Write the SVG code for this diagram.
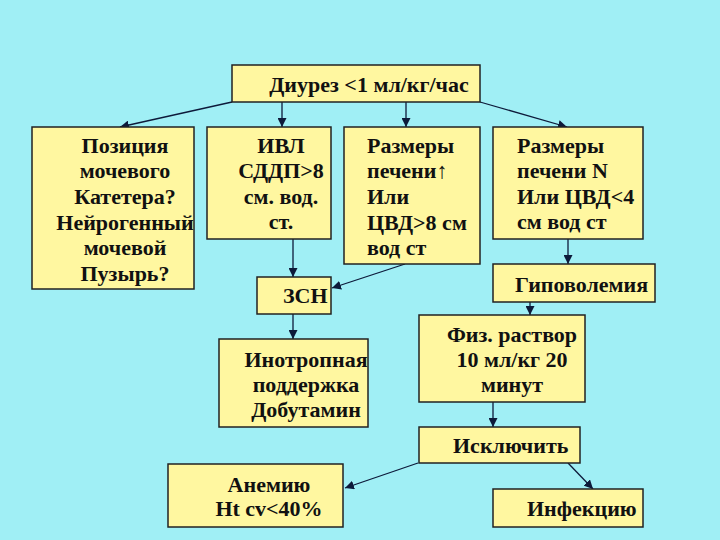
<svg xmlns="http://www.w3.org/2000/svg" width="720" height="540" viewBox="0 0 720 540">
<defs>
<style>
.bg{fill:#A0EFF5}
.box{fill:#FFF7A0;stroke:#222;stroke-width:1.5}
.t{font-family:"Liberation Serif","Times New Roman",serif;font-weight:bold;font-size:22px;fill:#111}
.c{text-anchor:middle}
.ln{stroke:#0d1a3a;stroke-width:1.3;fill:none;marker-end:url(#ah)}
</style>
<marker id="ah" viewBox="0 0 10 10" refX="10" refY="5" markerWidth="9" markerHeight="9" markerUnits="userSpaceOnUse" orient="auto">
<path d="M0,0 L10,5 L0,10 z" fill="#0d1a3a"/>
</marker>
</defs>
<rect class="bg" x="0" y="0" width="720" height="540"/>
<g id="connectors">
<line class="ln" x1="232" y1="102" x2="120" y2="127"/>
<line class="ln" x1="282" y1="102" x2="282" y2="127"/>
<line class="ln" x1="406" y1="102" x2="406" y2="127"/>
<line class="ln" x1="480" y1="102" x2="567" y2="127"/>
<line class="ln" x1="293" y1="239" x2="293" y2="277"/>
<line class="ln" x1="405" y1="264" x2="332" y2="288"/>
<line class="ln" x1="568" y1="239" x2="568" y2="264"/>
<line class="ln" x1="293" y1="314" x2="293" y2="339"/>
<line class="ln" x1="530" y1="302" x2="530" y2="315"/>
<line class="ln" x1="493" y1="402" x2="493" y2="427"/>
<line class="ln" x1="418" y1="463" x2="345" y2="488"/>
<line class="ln" x1="568" y1="463" x2="593" y2="489"/>
</g>
<g id="n-diurez">
<rect class="box" x="232" y="65" width="248" height="37"/>
<text class="t c" x="369" y="92">Диурез &lt;1 мл/кг/час</text>
</g>
<g id="n-position">
<rect class="box" x="32" y="127" width="162" height="162"/>
<text class="t c" x="125" y="153">Позиция</text>
<text class="t c" x="125" y="178">мочевого</text>
<text class="t c" x="125" y="204">Катетера?</text>
<text class="t c" x="125" y="230">Нейрогенный</text>
<text class="t c" x="125" y="255">мочевой</text>
<text class="t c" x="125" y="281">Пузырь?</text>
</g>
<g id="n-ivl">
<rect class="box" x="207" y="127" width="124" height="112"/>
<text class="t c" x="281" y="153">ИВЛ</text>
<text class="t c" x="281" y="178">СДДП&gt;8</text>
<text class="t c" x="281" y="204">см. вод.</text>
<text class="t c" x="281" y="229">ст.</text>
</g>
<g id="n-liver-up">
<rect class="box" x="344" y="127" width="136" height="137"/>
<text class="t" x="367" y="153">Размеры</text>
<text class="t" x="367" y="178">печени↑</text>
<text class="t" x="367" y="204">Или</text>
<text class="t" x="367" y="230">ЦВД&gt;8 см</text>
<text class="t" x="367" y="255">вод ст</text>
</g>
<g id="n-liver-n">
<rect class="box" x="493" y="127" width="150" height="112"/>
<text class="t" x="517" y="153">Размеры</text>
<text class="t" x="517" y="178">печени N</text>
<text class="t" x="517" y="204">Или ЦВД&lt;4</text>
<text class="t" x="517" y="229">см вод ст</text>
</g>
<g id="n-hypovolemia">
<rect class="box" x="493" y="264" width="162" height="38"/>
<text class="t" x="515" y="292">Гиповолемия</text>
</g>
<g id="n-zsn">
<rect class="box" x="257" y="277" width="74" height="37"/>
<text class="t" x="283" y="303">ЗСН</text>
</g>
<g id="n-inotrop">
<rect class="box" x="219" y="339" width="149" height="88"/>
<text class="t c" x="306" y="367">Инотропная</text>
<text class="t c" x="306" y="392">поддержка</text>
<text class="t c" x="306" y="417">Добутамин</text>
</g>
<g id="n-saline">
<rect class="box" x="419" y="315" width="166" height="87"/>
<text class="t c" x="512" y="342">Физ. раствор</text>
<text class="t c" x="512" y="367">10 мл/кг 20</text>
<text class="t c" x="512" y="392">минут</text>
</g>
<g id="n-exclude">
<rect class="box" x="419" y="427" width="161" height="36"/>
<text class="t" x="453" y="453">Исключить</text>
</g>
<g id="n-anemia">
<rect class="box" x="168" y="464" width="175" height="63"/>
<text class="t c" x="269" y="492">Анемию</text>
<text class="t c" x="269" y="516">Ht cv&lt;40%</text>
</g>
<g id="n-infection">
<rect class="box" x="493" y="489" width="150" height="38"/>
<text class="t" x="527" y="516">Инфекцию</text>
</g>
</svg>
